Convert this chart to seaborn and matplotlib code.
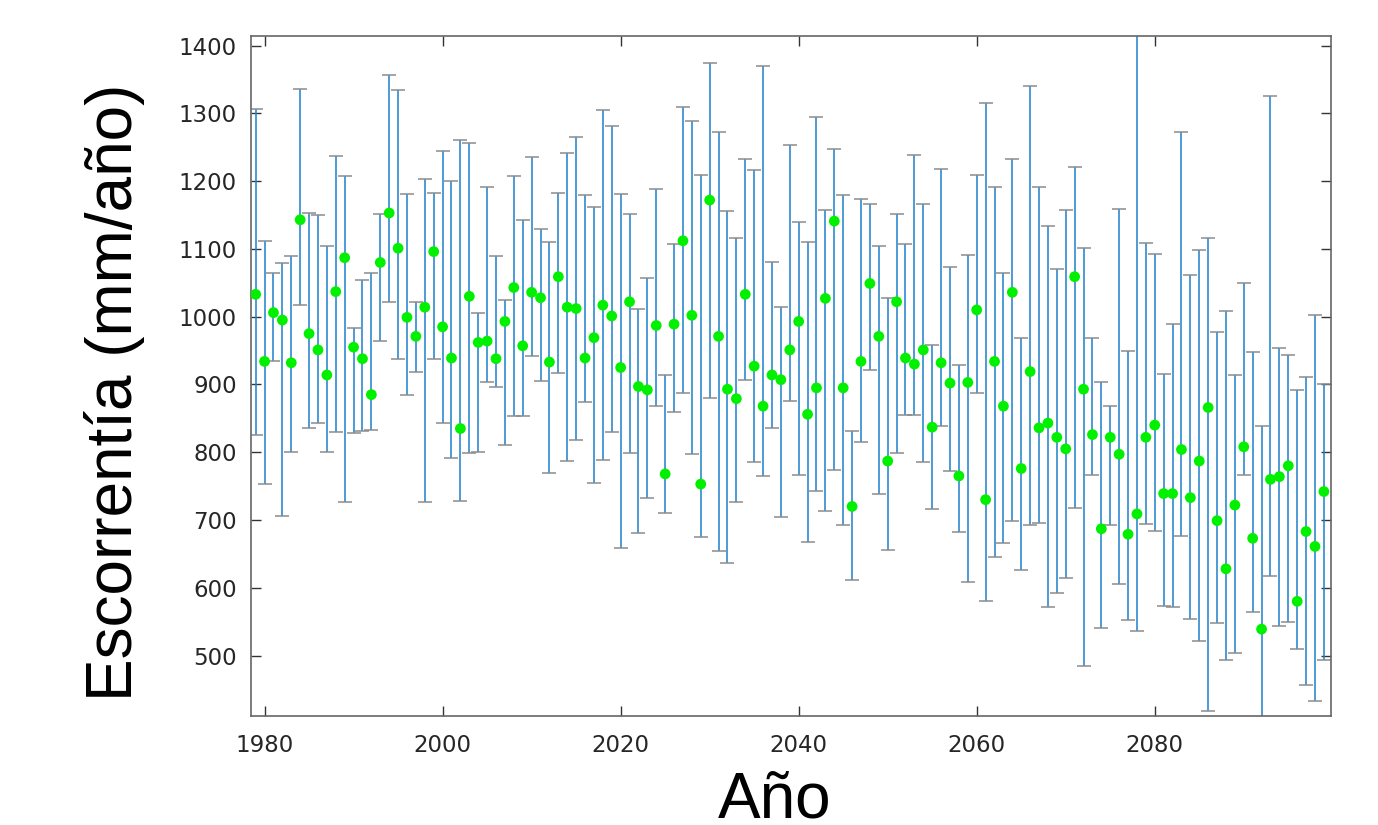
import numpy as np
import pandas as pd
import matplotlib
matplotlib.use("Agg")
import matplotlib.pyplot as plt
import seaborn as sns

# Runoff per year with upper / lower bounds
years = list(range(1979, 2100))

runoff = [1033, 934, 1006, 995, 932, 1143, 975, 951, 914, 1037, 1087, 955, 938, 885, 1080, 1153, 1101, 999, 971, 1014, 1096,
          985, 939, 835, 1030, 962, 964, 938, 993, 1043, 957, 1036, 1028, 933, 1059, 1014, 1012, 939, 969, 1017, 1001,
          925, 1022, 897, 892, 987, 768, 989, 1112, 1002, 753, 1172, 971, 893, 879, 1033, 927, 868, 914, 907, 951,
          993, 856, 895, 1027, 1141, 895, 720, 934, 1049, 971, 787, 1022, 939, 930, 951, 837, 932, 902, 765, 903,
          1010, 730, 934, 868, 1036, 776, 919, 836, 843, 822, 805, 1059, 893, 826, 687, 822, 797, 679, 709, 822,
          840, 739, 739, 804, 733, 787, 866, 699, 628, 722, 808, 673, 539, 760, 764, 780, 580, 683, 661, 742]

upper = [1307, 1112, 1064, 1079, 1089, 1336, 1153, 1150, 1105, 1237, 1208, 984, 1054, 1065, 1152, 1356, 1334, 1181, 1021, 1203, 1183,
         1245, 1200, 1260, 1257, 1005, 1192, 1090, 1025, 1207, 1143, 1236, 1130, 1110, 1183, 1241, 1265, 1180, 1162, 1305, 1281,
         1181, 1151, 1011, 1057, 1188, 914, 1107, 1310, 1289, 1209, 1375, 1273, 1156, 1116, 1233, 1216, 1370, 1081, 1014, 1253,
         1140, 1110, 1294, 1157, 1247, 1179, 832, 1174, 1166, 1105, 1028, 1152, 1107, 1239, 1167, 958, 1218, 1073, 929, 1091,
         1209, 1316, 1192, 1064, 1232, 969, 1341, 1191, 1134, 1070, 1157, 1221, 1101, 968, 903, 868, 1159, 949, 1430, 1108,
         1093, 916, 989, 1272, 1062, 1099, 1116, 978, 1009, 914, 1049, 948, 839, 1326, 954, 944, 892, 911, 1003, 900]

lower = [826, 753, 935, 706, 801, 1017, 836, 843, 800, 830, 727, 829, 832, 833, 964, 1022, 937, 885, 918, 726, 937,
         843, 791, 728, 799, 800, 903, 896, 811, 853, 854, 942, 905, 770, 917, 787, 818, 874, 755, 789, 830,
         658, 799, 681, 733, 868, 710, 860, 887, 797, 675, 880, 655, 637, 726, 907, 785, 765, 836, 704, 875,
         766, 668, 743, 714, 774, 693, 612, 815, 921, 739, 656, 799, 855, 855, 786, 716, 839, 772, 683, 608,
         888, 581, 645, 666, 699, 626, 693, 696, 572, 592, 614, 718, 485, 766, 541, 692, 605, 553, 536, 694,
         684, 573, 571, 676, 554, 522, 418, 548, 493, 504, 767, 564, 395, 618, 543, 549, 510, 456, 433, 493]

df = pd.DataFrame({"year": years, "runoff": runoff, "upper": upper, "lower": lower})

sns.set_theme(style="white")
plt.rcParams['font.family'] = ['DejaVu Sans']

fig = plt.figure(figsize=(13.78, 8.25), dpi=100)
ax = fig.add_axes([0.1821, 0.1321, 0.7838, 0.8243])

# error bars: blue stems, grey caps
yerr = [df["runoff"] - df["lower"], df["upper"] - df["runoff"]]
eb = ax.errorbar(df["year"], df["runoff"], yerr=yerr, fmt="none",
                 ecolor="#1b80cc", elinewidth=1.1, capsize=5, capthick=1.1, zorder=2)
for cap in eb[1]:
    cap.set_markeredgecolor("#8c8c8c")
    cap.set_color("#8c8c8c")

sns.scatterplot(data=df, x="year", y="runoff", ax=ax, color="#00f000",
                s=60, edgecolor="none", zorder=3)

ax.set_xlim(1978.47, 2099.8)
ax.set_ylim(410.8, 1414.2)
ax.set_xticks([1980, 2000, 2020, 2040, 2060, 2080])
ax.set_yticks(list(range(500, 1401, 100)))

ax.tick_params(axis="both", direction="in", length=7, width=1, color="#333333",
               labelsize=16.5, labelcolor="#262626", top=True, right=True,
               bottom=True, left=True)
ax.tick_params(axis="x", pad=13)
ax.tick_params(axis="y", pad=10)
for sp in ax.spines.values():
    sp.set_color("#666666")
    sp.set_linewidth(1.2)

ax.set_xlabel("Año", fontsize=46, family="Liberation Sans", color="black",
              labelpad=10, x=0.485)
ax.set_ylabel("Escorrentía (mm/año)", fontsize=46, family="Liberation Sans", color="black",
              labelpad=24, y=0.4765)

fig.savefig("out.png", dpi=100)
